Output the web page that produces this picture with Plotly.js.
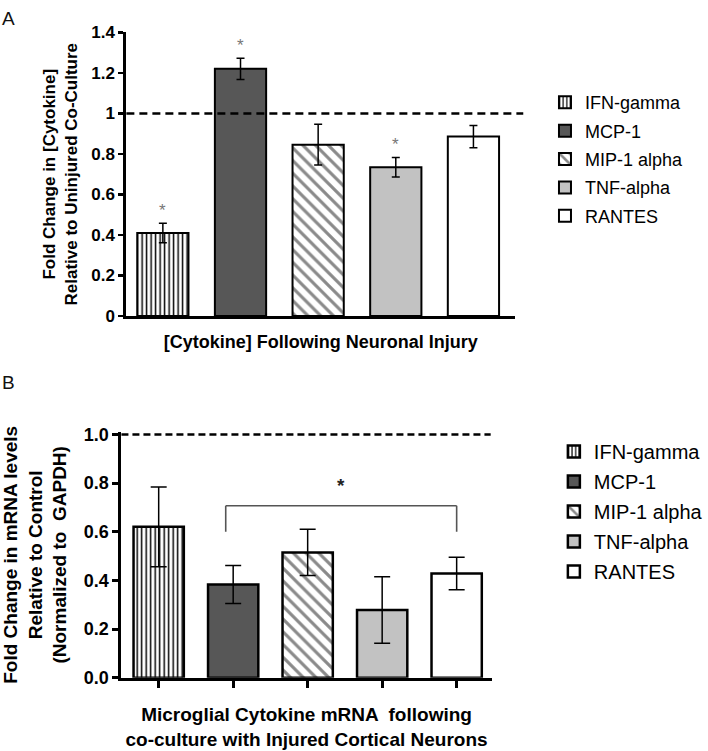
<!DOCTYPE html>
<html>
<head>
<meta charset="utf-8">
<script src="https://cdn.plot.ly/plotly-3.0.1.min.js"></script>
<style>html,body{margin:0;padding:0;background:#fff;}#chart{width:708px;height:751px;}</style>
</head>
<body>
<div id="chart"></div>
<script>
// ---- data ----
const categories = ['IFN-gamma', 'MCP-1', 'MIP-1 alpha', 'TNF-alpha', 'RANTES'];
// Panel A: protein fold change relative to uninjured co-culture
const proteinFold = [0.41, 1.22, 0.846, 0.734, 0.886];
const proteinErr  = [0.048, 0.052, 0.10, 0.048, 0.055];
const proteinSignificant = [true, true, false, true, false];
// Panel B: mRNA fold change relative to control (normalized to GAPDH)
const mrnaFold = [0.62, 0.383, 0.515, 0.278, 0.428];
const mrnaErr  = [0.164, 0.078, 0.095, 0.137, 0.067];
const referenceLevel = 1.0;
const bracketFrom = 'MCP-1';
const bracketTo = 'RANTES';
const bracketLevel = 0.707;
const bracketFoot = 0.60;

// ---- styles ----
const fills = [
  {color: 'white', pattern: {shape: '|', fgcolor: 'black', bgcolor: 'white', size: 4.5, solidity: 0.33}},
  {color: '#575757'},
  {color: 'white', pattern: {shape: '\\', fgcolor: '#8a8a8a', bgcolor: 'white', size: 9, solidity: 0.35}},
  {color: '#c2c2c2'},
  {color: 'white'}
];
const FONT = 'Liberation Sans, Arial, sans-serif';

const traces = [];
categories.forEach((c, i) => {
  const m = Object.assign({}, fills[i]);
  traces.push({
    type: 'bar', x: [c], y: [proteinFold[i]], name: c,
    xaxis: 'x', yaxis: 'y', legend: 'legend', legendgroup: 'A' + i,
    width: 0.66,
    marker: Object.assign({line: {color: 'black', width: 2}}, m),
    error_y: {type: 'data', array: [proteinErr[i]], color: 'black', thickness: 1.5, width: 4},
    hoverinfo: 'skip'
  });
});
categories.forEach((c, i) => {
  const m = Object.assign({}, fills[i]);
  traces.push({
    type: 'bar', x: [c], y: [mrnaFold[i]], name: c,
    xaxis: 'x2', yaxis: 'y2', legend: 'legend2', legendgroup: 'B' + i,
    width: 0.675,
    marker: Object.assign({line: {color: 'black', width: 2.5}}, m),
    error_y: {type: 'data', array: [mrnaErr[i]], color: 'black', thickness: 1.5, width: 8},
    hoverinfo: 'skip'
  });
});

const annotations = [
  {text: 'A', xref: 'paper', yref: 'paper', x: 0.0, y: 1.0, xanchor: 'left', yanchor: 'top', showarrow: false,
   font: {family: FONT, size: 19, color: '#111'}, xshift: 0, yshift: 3},
  {text: 'B', xref: 'paper', yref: 'paper', x: 0.0, y: 1 - 370/751, xanchor: 'left', yanchor: 'top', showarrow: false,
   font: {family: FONT, size: 19, color: '#111'}}
];
categories.forEach((c, i) => {
  if (proteinSignificant[i]) {
    annotations.push({text: '*', x: c, y: proteinFold[i] + proteinErr[i], xref: 'x', yref: 'y',
      yanchor: 'middle', yshift: 13, showarrow: false, font: {family: FONT, size: 17, color: '#777'}});
  }
});
const bx0 = categories.indexOf(bracketFrom) - 0.1;
const bx1 = categories.indexOf(bracketTo);
annotations.push({text: '*', x: (bx0 + bx1) / 2, y: bracketLevel, xref: 'x2', yref: 'y2',
  yanchor: 'middle', yshift: 20, showarrow: false, font: {family: FONT, size: 19, weight: 'bold', color: '#222'}});

const bracketLine = {color: '#555', width: 1.6};
const shapes = [
  {type: 'line', xref: 'paper', yref: 'y', x0: 128/708, x1: 530/708, y0: referenceLevel, y1: referenceLevel,
   line: {color: 'black', width: 2.5, dash: '8px,5px'}},
  {type: 'line', xref: 'paper', yref: 'y2', x0: 123/708, x1: 497/708, y0: referenceLevel, y1: referenceLevel,
   line: {color: 'black', width: 2.5, dash: '7px,4px'}},
  {type: 'line', xref: 'x2', yref: 'y2', x0: bx0, x1: bx1, y0: bracketLevel, y1: bracketLevel, line: bracketLine},
  {type: 'line', xref: 'x2', yref: 'y2', x0: bx0, x1: bx0, y0: bracketFoot, y1: bracketLevel, line: bracketLine},
  {type: 'line', xref: 'x2', yref: 'y2', x0: bx1, x1: bx1, y0: bracketFoot, y1: bracketLevel, line: bracketLine}
];

const layout = {
  width: 708, height: 751,
  margin: {l: 0, r: 0, t: 0, b: 0},
  paper_bgcolor: 'white', plot_bgcolor: 'white',
  font: {family: FONT, color: 'black'},
  barmode: 'overlay',
  showlegend: true,
  xaxis: {
    domain: [128/708, 522/708], anchor: 'y', type: 'category', categoryorder: 'array', categoryarray: categories,
    range: [-0.47, 4.54], showline: true, linewidth: 3, linecolor: 'black', ticks: '', showticklabels: false,
    showgrid: false, zeroline: false, automargin: true,
    title: {text: '[Cytokine] Following Neuronal Injury', font: {size: 18, weight: 'bold'}, standoff: 18}
  },
  yaxis: {
    domain: [1 - 315/751, 1 - 24/751], anchor: 'x', range: [0, 1.4], dtick: 0.2, tick0: 0,
    showline: true, linewidth: 3, linecolor: 'black', ticks: 'outside', ticklen: 5, tickwidth: 2.5, tickcolor: 'black',
    tickfont: {size: 17, weight: 'bold'}, showgrid: false, zeroline: false, automargin: true,
    title: {text: 'Fold Change in [Cytokine]<br>Relative to Uninjured Co-Culture', font: {size: 17, weight: 'bold'}, standoff: 10}
  },
  xaxis2: {
    domain: [123/708, 498/708], anchor: 'y2', type: 'category', categoryorder: 'array', categoryarray: categories,
    range: [-0.5, 4.47], showline: true, linewidth: 3, linecolor: 'black', ticks: 'outside', ticklen: 7, tickwidth: 3,
    tickcolor: 'black', showticklabels: false, showgrid: false, zeroline: false, automargin: true,
    title: {text: 'Microglial Cytokine mRNA  following<br>co-culture with Injured Cortical Neurons', font: {size: 19, weight: 'bold'}, standoff: 22}
  },
  yaxis2: {
    domain: [1 - 686/751, 1 - 434/751], anchor: 'x2', range: [0, 1.01], tickvals: [0, 0.2, 0.4, 0.6, 0.8, 1.0], tickformat: '.1f',
    showline: true, linewidth: 3, linecolor: 'black', ticks: 'outside', ticklen: 6, tickwidth: 3, tickcolor: 'black',
    tickfont: {size: 18, weight: 'bold'}, showgrid: false, zeroline: false, automargin: true,
    title: {text: 'Fold Change in mRNA levels<br>Relative to Control<br>(Normalized to  GAPDH)', font: {size: 19, weight: 'bold'}, standoff: 14}
  },
  legend: {
    x: 552/708, y: 1 - 77/751, xanchor: 'left', yanchor: 'top', font: {size: 18, color: 'black'},
    bgcolor: 'rgba(0,0,0,0)', borderwidth: 0, tracegroupgap: 2, traceorder: 'grouped'
  },
  legend2: {
    x: 561/708, y: 1 - 434/751, xanchor: 'left', yanchor: 'top', font: {size: 20, color: 'black'},
    bgcolor: 'rgba(0,0,0,0)', borderwidth: 0, tracegroupgap: 1, traceorder: 'grouped'
  },
  annotations: annotations,
  shapes: shapes
};

Plotly.newPlot('chart', traces, layout, {staticPlot: true, displayModeBar: false});
</script>
</body>
</html>
